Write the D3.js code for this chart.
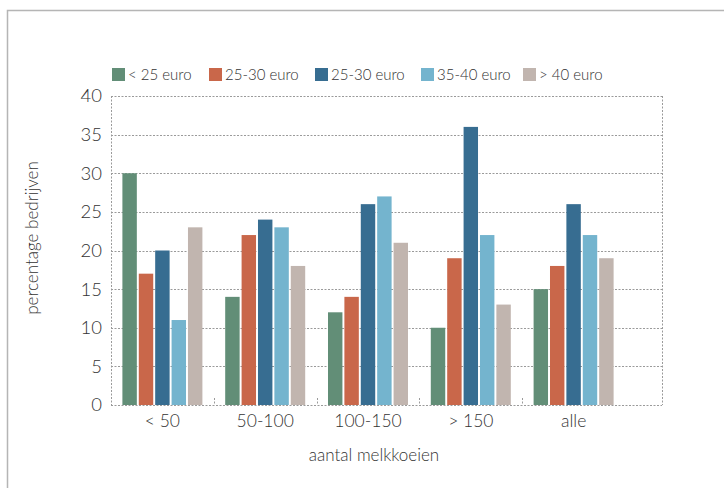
<!DOCTYPE html>
<html>
<head>
<meta charset="utf-8">
<script src="https://cdn.jsdelivr.net/npm/d3@7"></script>
<style>
  body { margin: 0; background: #fff; }
  svg text { font-family: Lato, "Open Sans", sans-serif; font-weight: 300; fill: #333; }
</style>
</head>
<body>
<div id="chart"></div>
<script>
// --- DATA ---
const categories = ["< 50", "50-100", "100-150", "> 150", "alle"];
const seriesNames = ["< 25 euro", "25-30 euro", "25-30 euro", "35-40 euro", "> 40 euro"];
const seriesColors = ["#628e77", "#c9674a", "#376d91", "#74b4ce", "#c1b5af"];
const values = [
    [30, 14, 12, 10, 15],
    [17, 22, 14, 19, 18],
    [20, 24, 26, 36, 26],
    [11, 23, 27, 22, 22],
    [23, 18, 21, 13, 19]
];
const yTicks = [0, 5, 10, 15, 20, 25, 30, 35, 40];

// --- SETUP ---
const width = 724, height = 488;
const plot = {left: 111, right: 662, top: 96, bottom: 405};

const svg = d3.select("#chart").append("svg")
    .attr("width", width)
    .attr("height", height);

// outer frame
svg.append("path")
    .attr("d", `M7.5,${height}V10.5H${width}`)
    .attr("fill", "none")
    .attr("stroke", "#b5b5b5")
    .attr("stroke-width", 1.5);

const x = d3.scaleBand()
    .domain(categories)
    .range([plot.left, 625]);

const xInner = d3.scaleBand()
    .domain(d3.range(seriesNames.length))
    .range([0, 80])
    .paddingInner(0.12);

const y = d3.scaleLinear()
    .domain([0, 40])
    .range([plot.bottom, plot.top]);

// gridlines
const dotted = "2,1.5";
svg.append("g")
    .selectAll("line")
    .data(yTicks)
    .enter().append("line")
    .attr("x1", plot.left)
    .attr("x2", plot.right)
    .attr("y1", d => Math.round(y(d)) + 0.5)
    .attr("y2", d => Math.round(y(d)) + 0.5)
    .attr("stroke", "#9a9a9a")
    .attr("stroke-dasharray", dotted);

// left and right borders
[plot.left, plot.right].forEach(px => {
    svg.append("line")
        .attr("x1", px + 0.5).attr("x2", px + 0.5)
        .attr("y1", plot.top).attr("y2", plot.bottom)
        .attr("stroke", "#9a9a9a")
        .attr("stroke-dasharray", dotted);
});

// group separator ticks
svg.append("g")
    .selectAll("line")
    .data(categories.slice(1))
    .enter().append("line")
    .attr("x1", d => Math.round(x(d)) + 0.5)
    .attr("x2", d => Math.round(x(d)) + 0.5)
    .attr("y1", plot.bottom - 7)
    .attr("y2", plot.bottom)
    .attr("stroke", "#9a9a9a")
    .attr("stroke-dasharray", dotted);

// y axis labels
const yAxis = svg.append("g")
    .attr("transform", `translate(${plot.left},0)`)
    .call(d3.axisLeft(y).tickValues(yTicks).tickSize(0).tickPadding(9));
yAxis.select(".domain").remove();
yAxis.selectAll("text")
    .style("font-size", "18.5px")
    .attr("font-family", null)
    .attr("fill", "#333");

// x axis labels
const xAxis = svg.append("g")
    .attr("transform", `translate(0,${plot.bottom})`)
    .call(d3.axisBottom(x).tickSize(0).tickPadding(10));
xAxis.select(".domain").remove();
xAxis.selectAll("text")
    .style("font-size", "17.5px")
    .attr("font-family", null)
    .attr("fill", "#333");

// bars
const groupOffset = (x.bandwidth() - 80) / 2;
values.forEach((series, si) => {
    svg.append("g")
        .selectAll("rect")
        .data(series)
        .enter().append("rect")
        .attr("x", (d, i) => x(categories[i]) + groupOffset + xInner(si))
        .attr("y", d => y(d))
        .attr("width", xInner.bandwidth())
        .attr("height", d => y(0) - y(d))
        .attr("fill", seriesColors[si]);
});

// axis titles
svg.append("text")
    .attr("x", 374)
    .attr("y", 461)
    .attr("text-anchor", "middle")
    .style("font-size", "17px")
    .text("aantal melkkoeien");

svg.append("text")
    .attr("transform", "translate(38,238) rotate(-90)")
    .attr("text-anchor", "middle")
    .style("font-size", "17px")
    .text("percentage bedrijven");

// legend
const legendX = [112, 209, 315, 421, 523];
const legend = svg.append("g");
seriesNames.forEach((name, i) => {
    legend.append("rect")
        .attr("x", legendX[i])
        .attr("y", 68)
        .attr("width", 13)
        .attr("height", 13)
        .attr("fill", seriesColors[i]);
    legend.append("text")
        .attr("x", legendX[i] + 16)
        .attr("y", 80)
        .style("font-size", "15px")
        .text(name);
});
</script>
</body>
</html>
